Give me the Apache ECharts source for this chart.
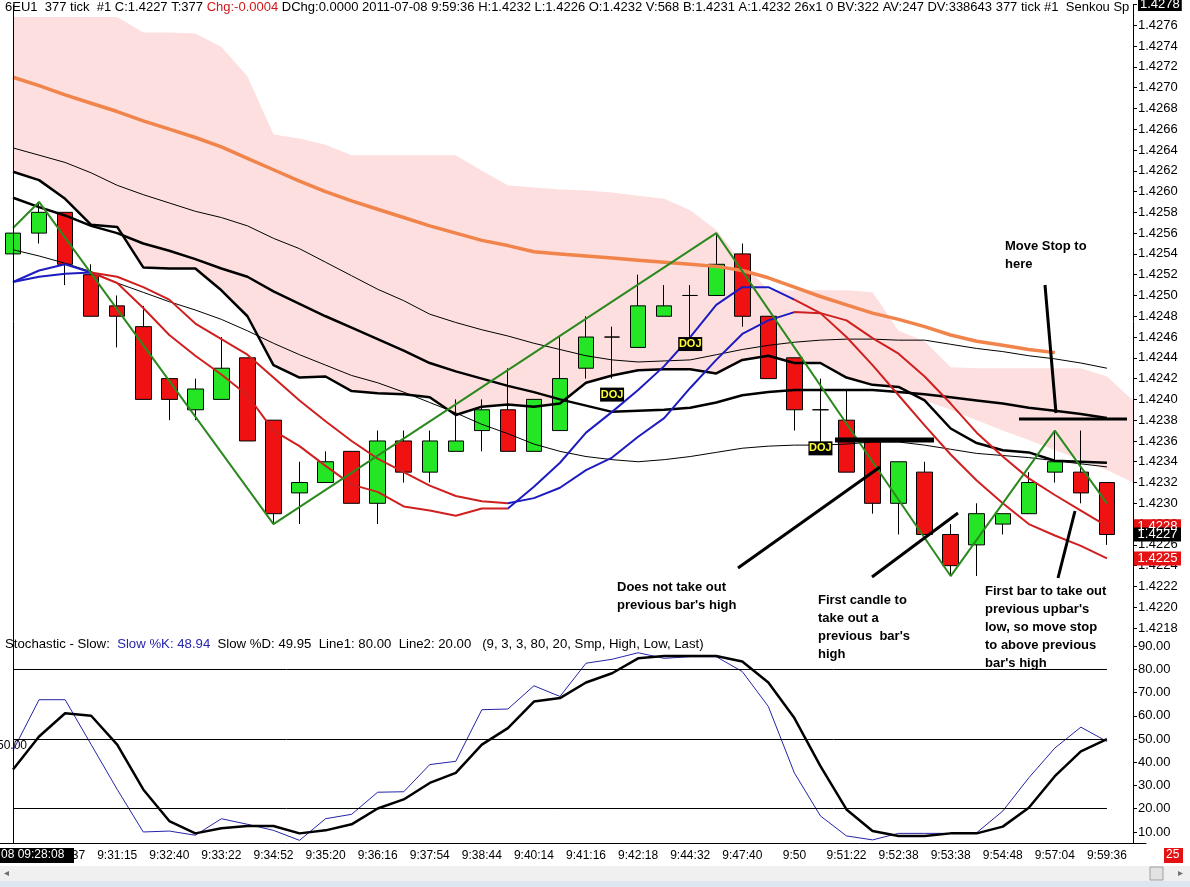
<!DOCTYPE html>
<html>
<head>
<meta charset="utf-8">
<title>6EU1 377 tick</title>
<script src="https://cdn.jsdelivr.net/npm/echarts@6/dist/echarts.min.js"></script>
<style>
  html, body { margin: 0; padding: 0; background: #fff; }
  #chart { width: 1190px; height: 887px; }
</style>
</head>
<body>
<div id="chart"></div>
<script>
// time labels under every other bar (bar 0, 2, 4 ... 42)
const tickLabels = ['9:28:08', '9:29:37', '9:31:15', '9:32:40', '9:33:22', '9:34:52', '9:35:20', '9:36:16',
  '9:37:54', '9:38:44', '9:40:14', '9:41:16', '9:42:18', '9:44:32', '9:47:40', '9:50', '9:51:22',
  '9:52:38', '9:53:38', '9:54:48', '9:57:04', '9:59:36'];

const priceTicks = [1.4218, 1.4220, 1.4222, 1.4224, 1.4226, 1.4228, 1.4230, 1.4232, 1.4234, 1.4236,
  1.4238, 1.4240, 1.4242, 1.4244, 1.4246, 1.4248, 1.4250, 1.4252, 1.4254, 1.4256, 1.4258, 1.4260,
  1.4262, 1.4264, 1.4266, 1.4268, 1.4270, 1.4272, 1.4274, 1.4276, 1.4278];
const stochTicks = [10, 20, 30, 40, 50, 60, 70, 80, 90];

// 377 tick bars
const opens = [1.4254, 1.4256, 1.4258, 1.4252, 1.4249, 1.4247, 1.4242, 1.4239, 1.4240, 1.4244, 1.4238,
  1.4231, 1.4232, 1.4235, 1.4230, 1.4236, 1.4233, 1.4235, 1.4237, 1.4239, 1.4235, 1.4237, 1.4243,
  1.4246, 1.4245, 1.4248, 1.4250, 1.4250, 1.4254, 1.4248, 1.4244, 1.4239, 1.4238, 1.4236, 1.4230,
  1.4233, 1.4227, 1.4226, 1.4228, 1.4229, 1.4233, 1.4233, 1.4232];
const closes = [1.4256, 1.4258, 1.4253, 1.4248, 1.4248, 1.4240, 1.4240, 1.4241, 1.4243, 1.4236, 1.4229,
  1.4232, 1.4234, 1.4230, 1.4236, 1.4233, 1.4236, 1.4236, 1.4239, 1.4235, 1.4240, 1.4242, 1.4246,
  1.4246, 1.4249, 1.4249, 1.4250, 1.4253, 1.4248, 1.4242, 1.4239, 1.4239, 1.4233, 1.4230, 1.4234,
  1.4227, 1.4224, 1.4229, 1.4229, 1.4232, 1.4234, 1.4231, 1.4227];
const lows = [1.4254, 1.4255, 1.4251, 1.4248, 1.4245, 1.4240, 1.4238, 1.4238, 1.4240, 1.4236, 1.4228,
  1.4228, 1.4232, 1.4230, 1.4228, 1.4232, 1.4232, 1.4235, 1.4235, 1.4235, 1.4235, 1.4237, 1.4242,
  1.4242, 1.4245, 1.4248, 1.4246, 1.4250, 1.4247, 1.4242, 1.4237, 1.4235, 1.4233, 1.4229, 1.4227,
  1.4227, 1.4223, 1.4223, 1.4227, 1.4229, 1.4232, 1.4230, 1.4226];
const highs = [1.4256, 1.4259, 1.4258, 1.4253, 1.4250, 1.4249, 1.4242, 1.4242, 1.4246, 1.4244, 1.4238,
  1.4234, 1.4235, 1.4235, 1.4237, 1.4237, 1.4237, 1.4240, 1.4240, 1.4243, 1.4240, 1.4246, 1.4248,
  1.4247, 1.4252, 1.4251, 1.4251, 1.4256, 1.4255, 1.4248, 1.4244, 1.4242, 1.4241, 1.4236, 1.4234,
  1.4234, 1.4228, 1.4230, 1.4229, 1.4233, 1.4237, 1.4237, 1.4232];

// zigzag pivots
const zigzag = [1.42565, 1.4259, null, null, null, null, null, null, null, null, 1.4228, null, null, null,
  null, null, null, null, null, null, null, null, null, null, null, null, null, 1.4256, null, null, null,
  null, null, null, null, null, 1.4223, null, null, null, 1.4237, null, 1.4230];

// senkou cloud (runs one bar past the last candle)
const senkouTop = [1.42768, 1.42768, 1.42768, 1.42768, 1.42768, 1.42753, 1.42753, 1.42752, 1.42739,
  1.42711, 1.42655, 1.42651, 1.42645, 1.42635, 1.42635, 1.42635, 1.42635, 1.42635, 1.42620, 1.42606,
  1.42604, 1.42602, 1.42601, 1.42599, 1.42596, 1.42593, 1.42582, 1.42563, 1.42532, 1.42505, 1.42505,
  1.42505, 1.42505, 1.42503, 1.42466, 1.42456, 1.42431, 1.42430, 1.42430, 1.42430, 1.42430, 1.42430,
  1.42422, 1.42399];
const senkouBottom = [1.42619, 1.42611, 1.42593, 1.42568, 1.42566, 1.42527, 1.42526, 1.42526, 1.42505,
  1.42480, 1.42433, 1.42421, 1.42422, 1.42408, 1.42406, 1.42405, 1.42402, 1.42385, 1.42393, 1.42395,
  1.42393, 1.42396, 1.42416, 1.42423, 1.42428, 1.42429, 1.42429, 1.42425, 1.42438, 1.42442, 1.42435,
  1.42435, 1.42421, 1.42414, 1.42412, 1.42399, 1.42390, 1.42380, 1.42370, 1.42361, 1.42351, 1.42342,
  1.42332, 1.42320];

const kijun = [1.42619, 1.42611, 1.42593, 1.42568, 1.42566, 1.42527, 1.42526, 1.42526, 1.42505, 1.42480,
  1.42433, 1.42421, 1.42422, 1.42408, 1.42406, 1.42405, 1.42402, 1.42385, 1.42393, 1.42395, 1.42393,
  1.42396, 1.42416, 1.42423, 1.42428, 1.42429, 1.42429, 1.42425, 1.42438, 1.42442, 1.42435, 1.42435,
  1.42421, 1.42414, 1.42412, 1.42399, 1.42372, 1.42358, 1.42351, 1.42349, 1.42341, 1.42340, 1.42339];
const midBand = [1.42594, 1.42585, 1.42577, 1.42567, 1.42560, 1.42550, 1.42543, 1.42535, 1.42526, 1.42518,
  1.42504, 1.42492, 1.42480, 1.42469, 1.42458, 1.42447, 1.42435, 1.42427, 1.42420, 1.42413, 1.42407,
  1.42400, 1.42394, 1.42388, 1.42389, 1.42390, 1.42392, 1.42397, 1.42404, 1.42407, 1.42409, 1.42409,
  1.42409, 1.42409, 1.42407, 1.42405, 1.42402, 1.42399, 1.42396, 1.42392, 1.42389, 1.42386, 1.42382];
const upperBand = [1.42642, 1.42635, 1.42628, 1.42618, 1.42606, 1.42597, 1.42589, 1.42581, 1.42575,
  1.42567, 1.42555, 1.42545, 1.42532, 1.42519, 1.42506, 1.42495, 1.42482, 1.42474, 1.42467, 1.42461,
  1.42454, 1.42448, 1.42442, 1.42438, 1.42436, 1.42437, 1.42438, 1.42443, 1.42448, 1.42452, 1.42455,
  1.42457, 1.42458, 1.42458, 1.42457, 1.42457, 1.42453, 1.42449, 1.42446, 1.42442, 1.42439, 1.42435,
  1.42430];
const lowerBand = [1.42544, 1.42538, 1.42531, 1.42523, 1.42512, 1.42503, 1.42494, 1.42486, 1.42477,
  1.42466, 1.42454, 1.42443, 1.42433, 1.42423, 1.42416, 1.42407, 1.42397, 1.42387, 1.42376, 1.42367,
  1.42357, 1.42350, 1.42345, 1.42342, 1.42340, 1.42342, 1.42345, 1.42349, 1.42353, 1.42355, 1.42356,
  1.42356, 1.42357, 1.42359, 1.42359, 1.42356, 1.42352, 1.42348, 1.42346, 1.42344, 1.42341, 1.42338,
  1.42335];
const orangeMa = [1.42710, 1.42702, 1.42693, 1.42685, 1.42677, 1.42668, 1.42660, 1.42652, 1.42643,
  1.42632, 1.42621, 1.42610, 1.42600, 1.42591, 1.42583, 1.42575, 1.42567, 1.42560, 1.42553, 1.42548,
  1.42542, 1.42540, 1.42538, 1.42536, 1.42534, 1.42532, 1.42530, 1.42528, 1.42524, 1.42517, 1.42508,
  1.42499, 1.42491, 1.42483, 1.42477, 1.42470, 1.42462, 1.42456, 1.42452, 1.42448, 1.42445, null, null];
const fastMa = [1.42513, 1.42524, 1.42530, 1.42522, 1.42512, 1.42488, 1.42462, 1.42442, 1.42424, 1.42404,
  1.42370, 1.42355, 1.42336, 1.42318, 1.42311, 1.42297, 1.42293, 1.42288, 1.42295, 1.42295, 1.42316,
  1.42339, 1.42368, 1.42388, 1.42409, 1.42432, 1.42460, 1.42491, 1.42508, 1.42508, 1.42496, 1.42483,
  1.42460, 1.42433, 1.42404, 1.42375, 1.42347, 1.42322, 1.42300, 1.42280, 1.42269, 1.42259, 1.42247];
const slowMa = [1.42513, 1.42518, 1.42521, 1.42522, 1.42518, 1.42508, 1.42496, 1.42473, 1.42458, 1.42443,
  1.42421, 1.42399, 1.42379, 1.42360, 1.42343, 1.42330, 1.42317, 1.42307, 1.42302, 1.42300, 1.42305,
  1.42315, 1.42332, 1.42344, 1.42364, 1.42382, 1.42411, 1.42438, 1.42463, 1.42476, 1.42484, 1.42483,
  1.42476, 1.42459, 1.42444, 1.42422, 1.42396, 1.42368, 1.42345, 1.42324, 1.42308, 1.42293, 1.42278];

// stochastic slow (9,3,3)
const slowK = [45, 66.9, 66.9, 47.6, 28.3, 10, 10.4, 8.6, 15.7, 13.3, 10.7, 6.4, 15.7, 17.6, 27.1, 27.3,
  39, 40.4, 62.6, 62.9, 72.9, 68.3, 82.6, 84.3, 87.1, 84.7, 85.4, 85.4, 79, 64, 35.4, 16.9, 8.3, 6.6,
  9.4, 9.4, 9.4, 9.7, 19, 33.3, 46.1, 55.1, 48.94];
const slowD = [36.9, 51.1, 61.1, 60, 47.6, 28.3, 14.7, 9.4, 11.6, 12.6, 12.6, 9.4, 10.7, 13.3, 20.1, 24,
  31.1, 35.4, 47.6, 54.7, 66.1, 67.6, 74.3, 78.3, 84.7, 85.7, 85.7, 85.7, 83.3, 74.3, 59, 38.3, 19.7,
  10.4, 8.3, 8.3, 9.4, 9.4, 12.3, 20.4, 34, 44.7, 49.95];

const FF = '"Liberation Sans", Arial, sans-serif';
const barIds = senkouTop.map((v, i) => String(i));
const candles = opens.map((o, i) => [o, closes[i], lows[i], highs[i]]);
const cloudFill = senkouTop.map((v, i) => v - senkouBottom[i]);

const chart = echarts.init(document.getElementById('chart'));

const line = (data, color, width, extra) => Object.assign({
  type: 'line', xAxisIndex: 0, yAxisIndex: 0, data: data, symbol: 'none', silent: true, z: 3,
  lineStyle: color ? { color: color, width: width } : { width: width }
}, extra || {});

const option = {
  animation: false,
  backgroundColor: '#fff',
  textStyle: { fontFamily: FF },
  grid: [
    { left: 0, top: 4.5, width: 1146, height: 633.9, outerBoundsMode: 'none' },
    { left: 0, top: 634.4, width: 1146, height: 209.2, outerBoundsMode: 'none' }
  ],
  xAxis: [
    { type: 'category', gridIndex: 0, data: barIds, show: false },
    {
      type: 'category', gridIndex: 1, data: barIds,
      axisLine: { lineStyle: { color: '#000' } },
      axisTick: { show: false },
      axisLabel: {
        interval: 1, color: '#000', fontSize: 12, fontFamily: FF, margin: 6,
        formatter: (v, i) => (i % 2 === 0 ? (tickLabels[i / 2] || '') : '')
      }
    }
  ],
  yAxis: [
    {
      type: 'value', gridIndex: 0, position: 'right', offset: -13, min: 1.4217, max: 1.4278,
      splitLine: { show: false },
      axisLine: { show: true, lineStyle: { color: '#000' } },
      axisTick: { show: true, length: 4, lineStyle: { color: '#000' }, customValues: priceTicks },
      axisLabel: {
        customValues: priceTicks, color: '#000', fontSize: 13, fontFamily: FF, margin: 5,
        formatter: v => (Math.abs(v - 1.4278) < 1e-9 ? '{hl|' + v.toFixed(4) + '}' : v.toFixed(4)),
        rich: { hl: { backgroundColor: '#000', color: '#fff', fontSize: 13, padding: [0, 2] } }
      }
    },
    {
      type: 'value', gridIndex: 1, position: 'right', offset: -13, min: 5, max: 95,
      splitLine: { show: false },
      axisLine: { show: true, lineStyle: { color: '#000' } },
      axisTick: { show: true, length: 4, lineStyle: { color: '#000' }, customValues: stochTicks },
      axisLabel: {
        customValues: stochTicks, color: '#000', fontSize: 13, fontFamily: FF, margin: 5,
        formatter: v => v.toFixed(2)
      }
    }
  ],
  visualMap: [{
    type: 'piecewise', show: false, seriesIndex: [8, 9], dimension: 0,
    pieces: [
      { lte: 3, color: '#1c1cc0' },
      { gt: 3, lte: 19, color: '#d01f1f' },
      { gt: 19, lte: 30, color: '#1c1cc0' },
      { gt: 30, color: '#d01f1f' }
    ]
  }],
  series: [
    // 0,1 cloud
    line(senkouBottom, 'transparent', 0, { stack: 'cloud', z: 1 }),
    line(cloudFill, 'transparent', 0, { stack: 'cloud', z: 1, areaStyle: { color: '#fddfdf', opacity: 1 } }),
    // 2 candles
    {
      type: 'candlestick', xAxisIndex: 0, yAxisIndex: 0, data: candles, barWidth: 16, z: 2, silent: true,
      itemStyle: {
        color: '#25e625', color0: '#f01212', borderColor: '#000', borderColor0: '#000',
        borderColorDoji: '#000', borderWidth: 1
      },
      markLine: {
        symbol: 'none', silent: true, label: { show: false },
        lineStyle: { color: '#000', width: 1, type: 'solid' },
        data: [{ xAxis: 0 }]
      },
      markPoint: {
        symbol: 'rect', symbolSize: [24, 14], silent: true,
        itemStyle: { color: '#000' },
        label: { show: true, position: 'inside', formatter: 'DOJ', color: '#ffff30', fontWeight: 'bold', fontSize: 11, fontFamily: FF },
        data: [
          { coord: [23, lows[23]], symbolOffset: [0, 16] },
          { coord: [26, lows[26]], symbolOffset: [0, 7] },
          { coord: [31, lows[31]], symbolOffset: [0, -3] }
        ]
      }
    },
    // 3..7 ichimoku / bands
    line(orangeMa, '#f0844a', 3.5),
    line(upperBand, '#000', 1),
    line(lowerBand, '#000', 1),
    line(kijun, '#000', 2.5),
    line(midBand, '#000', 2.5),
    // 8,9 averages, coloured by the visualMap
    line(fastMa, null, 2),
    line(slowMa, null, 2),
    // 10 zigzag
    line(zigzag, '#2b8a1e', 2, { connectNulls: true, z: 4 }),
    // 11,12 stochastic
    {
      type: 'line', xAxisIndex: 1, yAxisIndex: 1, data: slowK, symbol: 'none', silent: true,
      lineStyle: { color: '#2424a8', width: 1 }
    },
    {
      type: 'line', xAxisIndex: 1, yAxisIndex: 1, data: slowD, symbol: 'none', silent: true,
      lineStyle: { color: '#000', width: 2.5 },
      markLine: {
        symbol: 'none', silent: true, label: { show: false },
        lineStyle: { color: '#000', width: 1, type: 'solid' },
        data: [
          [{ coord: [0, 80] }, { coord: [42, 80] }],
          [{ coord: [0, 50] }, { coord: [42, 50] }],
          [{ coord: [0, 20] }, { coord: [42, 20] }],
          { xAxis: 0 }
        ]
      }
    }
  ]
};

chart.setOption(option);

// text, pointers and value boxes drawn on top
const bold = { fontSize: 13, fontWeight: 'bold', fontFamily: FF, fill: '#000', lineHeight: 18, verticalAlign: 'top' };
const note = (id, x, y, text) => ({ type: 'text', id: id, x: x, y: y, z: 100, style: Object.assign({ text: text }, bold) });
const stroke = (id, x1, y1, x2, y2, w) => ({
  type: 'line', id: id, z: 100, shape: { x1: x1, y1: y1, x2: x2, y2: y2 }, style: { stroke: '#000', lineWidth: w }
});
const small = { fontSize: 12, fontFamily: FF, verticalAlign: 'top' };

const valueBox = (id, value, bg) => {
  const py = chart.convertToPixel({ yAxisIndex: 0 }, value);
  return {
    type: 'group', id: id, z: 110, children: [
      { type: 'rect', shape: { x: 1134, y: py - 7, width: 47, height: 14 }, style: { fill: bg }, z: 110 },
      {
        type: 'text', x: 1157.5, y: py, z: 111,
        style: { text: value.toFixed(4), fill: '#fff', fontSize: 13, fontFamily: FF, align: 'center', verticalAlign: 'middle' }
      }
    ]
  };
};

chart.setOption({
  graphic: { elements: [
    {
      type: 'text', id: 'hdr', x: 5, y: 1, z: 100,
      style: {
        text: '{a|6EU1  377 tick  #1 C:1.4227 T:377 }{r|Chg:-0.0004}{a| DChg:0.0000 2011-07-08 9:59:36 H:1.4232 L:1.4226 O:1.4232 V:568 B:1.4231 A:1.4232 26x1 0 BV:322 AV:247 DV:338643 377 tick #1  Senkou Sp}',
        verticalAlign: 'top',
        rich: {
          a: { fill: '#000', fontSize: 13, fontFamily: FF },
          r: { fill: '#d01818', fontSize: 13, fontFamily: FF }
        }
      }
    },
    {
      type: 'text', id: 'stochHdr', x: 5, y: 638, z: 100,
      style: {
        text: '{a|Stochastic - Slow:  }{b|Slow %K: 48.94}{a|  Slow %D: 49.95  Line1: 80.00  Line2: 20.00   (9, 3, 3, 80, 20, Smp, High, Low, Last)}',
        verticalAlign: 'top',
        rich: {
          a: { fill: '#000', fontSize: 13.2, fontFamily: FF },
          b: { fill: '#2424b0', fontSize: 13.2, fontFamily: FF }
        }
      }
    },
    { type: 'text', id: 'left50', x: -3, y: 740, z: 100, style: Object.assign({ text: '50.00', fill: '#000' }, small) },

    note('n1', 1005, 237, 'Move Stop to\nhere'),
    note('n2', 617, 578, 'Does not take out\nprevious bar\'s high'),
    note('n3', 818, 591, 'First candle to\ntake out a\nprevious  bar\'s\nhigh'),
    note('n4', 985, 582, 'First bar to take out\nprevious upbar\'s\nlow, so move stop\nto above previous\nbar\'s high'),

    stroke('s1', 1045, 285, 1056, 413, 3),
    stroke('s2', 1019, 419, 1127, 419, 3),
    stroke('s3', 835, 440, 934, 440, 5),
    stroke('s4', 738, 568, 880, 467, 3),
    stroke('s5', 872, 577, 958, 513, 3),
    stroke('s6', 1058, 578, 1075, 511, 3),

    valueBox('vb1', slowMa[slowMa.length - 1], '#e41212'),
    valueBox('vb2', closes[closes.length - 1], '#000'),
    valueBox('vb3', fastMa[fastMa.length - 1], '#e41212'),

    // cursor time box and bottom bar
    { type: 'rect', id: 'tbox', z: 100, shape: { x: 0, y: 848, width: 74, height: 15 }, style: { fill: '#000' } },
    { type: 'text', id: 'ttxt', x: 1, y: 849, z: 101, style: Object.assign({ text: '08 09:28:08', fill: '#fff' }, small) },
    { type: 'rect', id: 'rbox', z: 100, shape: { x: 1164, y: 848, width: 19, height: 15 }, style: { fill: '#e41212' } },
    { type: 'text', id: 'rtxt', x: 1166, y: 849, z: 101, style: Object.assign({ text: '25', fill: '#fff' }, small) },
    { type: 'rect', id: 'sbar', z: 90, shape: { x: 0, y: 866, width: 1190, height: 15 }, style: { fill: '#f0f0f0' } },
    { type: 'rect', id: 'sbot', z: 90, shape: { x: 0, y: 881, width: 1190, height: 6 }, style: { fill: '#dde6ef' } },
    { type: 'rect', id: 'thumb', z: 91, shape: { x: 1150, y: 867, width: 13, height: 13 }, style: { fill: '#e2e2e2', stroke: '#a0a0a0' } },
    { type: 'text', id: 'arl', x: 4, y: 868, z: 91, style: { text: '\u25C2', fill: '#707070', fontSize: 10, verticalAlign: 'top' } },
    { type: 'text', id: 'arr', x: 1178, y: 868, z: 91, style: { text: '\u25B8', fill: '#707070', fontSize: 10, verticalAlign: 'top' } }
  ] }
});
</script>
</body>
</html>
